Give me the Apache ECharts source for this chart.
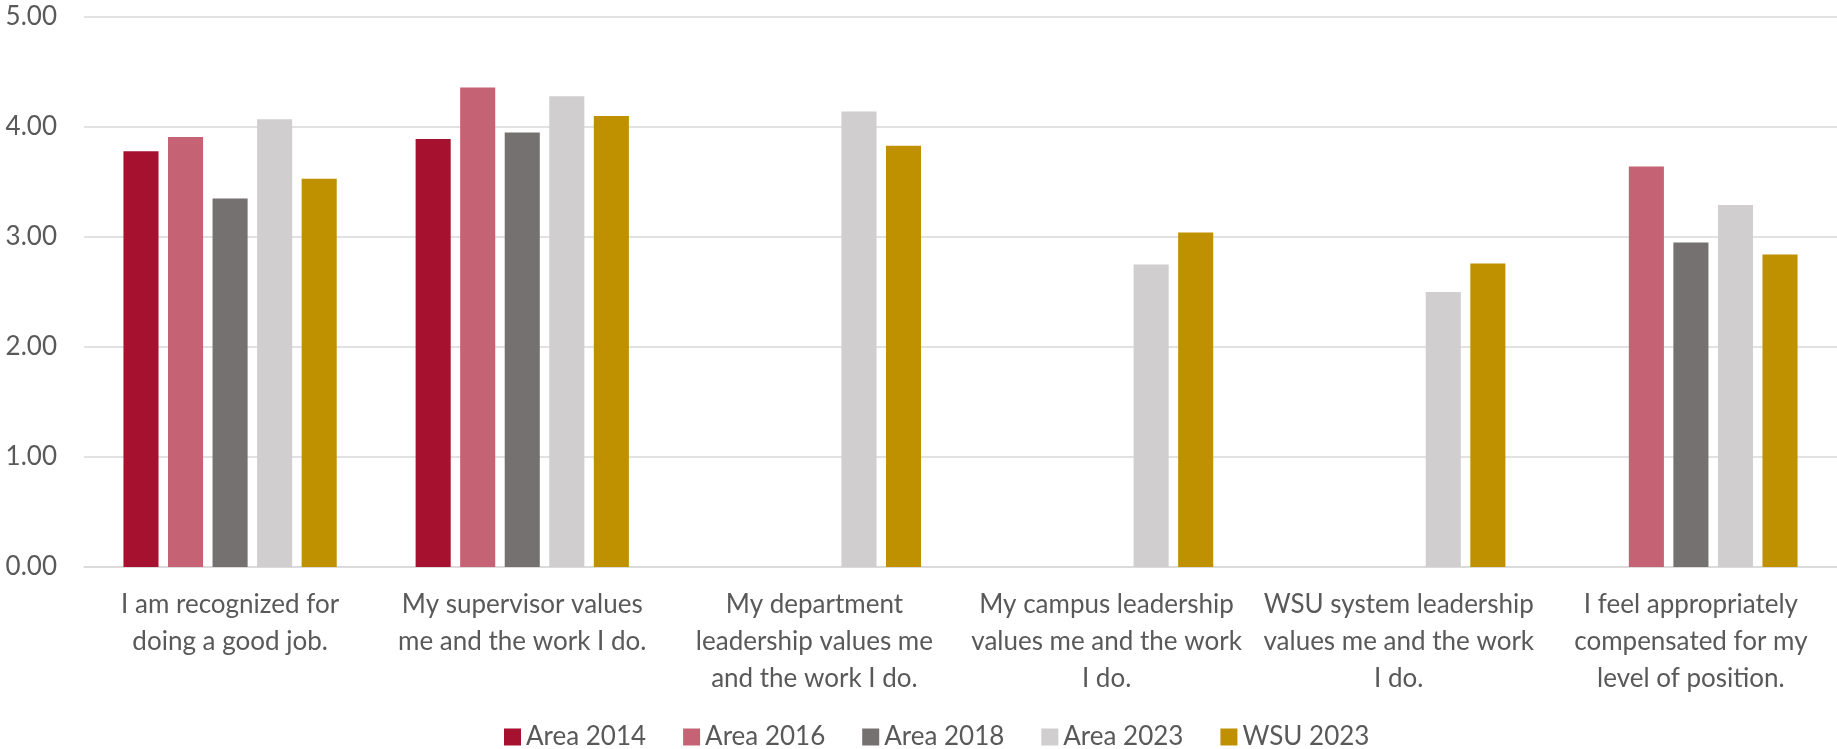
<!DOCTYPE html>
<html>
<head>
<meta charset="utf-8">
<script src="https://cdn.jsdelivr.net/npm/echarts@6/dist/echarts.min.js"></script>
<style>
html,body{margin:0;padding:0;background:#fff;}
#c{width:1837px;height:749px;}
</style>
</head>
<body>
<div id="c"></div>
<script>
const categories = [
  "I am recognized for\ndoing a good job.",
  "My supervisor values\nme and the work I do.",
  "My department\nleadership values me\nand the work I do.",
  "My campus leadership\nvalues me and the work\nI do.",
  "WSU system leadership\nvalues me and the work\nI do.",
  "I feel appropriately\ncompensated for my\nlevel of position."
];
const area2014 = [3.78, 3.89, null, null, null, null];
const area2016 = [3.91, 4.36, null, null, null, 3.64];
const area2018 = [3.35, 3.95, null, null, null, 2.95];
const area2023 = [4.07, 4.28, 4.14, 2.75, 2.50, 3.29];
const wsu2023  = [3.53, 4.10, 3.83, 3.04, 2.76, 2.84];
const yTicks = [0, 1, 2, 3, 4, 5];

const seriesDefs = [
  { name: "Area 2014", data: area2014, color: "#A6112F" },
  { name: "Area 2016", data: area2016, color: "#C56374" },
  { name: "Area 2018", data: area2018, color: "#767171" },
  { name: "Area 2023", data: area2023, color: "#D0CECE" },
  { name: "WSU 2023",  data: wsu2023,  color: "#BF9000" }
];

const font = "Lato, 'Open Sans', sans-serif";
const chart = echarts.init(document.getElementById('c'), null, { renderer: 'canvas' });
chart.setOption({
  animation: false,
  backgroundColor: '#fff',
  grid: { left: 84, right: 0, top: 17, bottom: 182, containLabel: false },
  legend: {
    bottom: -6,
    left: 499,
    itemWidth: 17,
    itemHeight: 17,
    itemGap: 37,
    icon: 'rect',
    textStyle: { color: '#595959', fontSize: 26, fontFamily: font, padding: [0, 0, 0, 0] },
    data: seriesDefs.map(s => s.name)
  },
  xAxis: {
    type: 'category',
    data: categories,
    axisLine: { show: true, lineStyle: { color: '#D9D9D9', width: 1.5 } },
    axisTick: { show: false },
    axisLabel: {
      color: '#595959',
      fontSize: 26,
      fontFamily: font,
      lineHeight: 37,
      margin: 19,
      interval: 0,
      align: 'center'
    }
  },
  yAxis: {
    type: 'value',
    min: yTicks[0],
    max: yTicks[yTicks.length - 1],
    interval: 1,
    axisLine: { show: false },
    axisTick: { show: false },
    splitLine: { lineStyle: { color: '#D9D9D9', width: 1.5 } },
    axisLabel: {
      color: '#595959',
      fontSize: 26,
      fontFamily: font,
      margin: 27,
      formatter: v => v.toFixed(2)
    }
  },
  series: seriesDefs.map(s => ({
    name: s.name,
    type: 'bar',
    data: s.data,
    barGap: '27%',
    barCategoryGap: '27%',
    itemStyle: { color: s.color }
  }))
});
</script>
</body>
</html>
